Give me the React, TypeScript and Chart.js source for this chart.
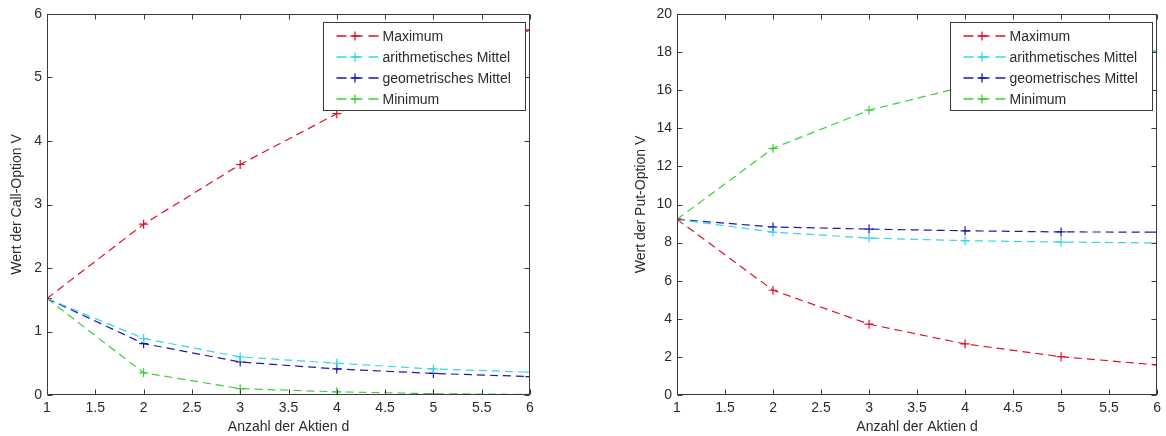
import React, { useEffect, useRef } from "react";
import { Chart, registerables } from "chart.js";

Chart.register(...registerables);

// ---- data ----
const aktienAnzahl = [1, 2, 3, 4, 5, 6];
const seriesNames = ["Maximum", "arithmetisches Mittel", "geometrisches Mittel", "Minimum"];

const callMaximum = [1.52, 2.69, 3.63, 4.43, 5.12, 5.75];
const callArith = [1.52, 0.89, 0.6, 0.5, 0.41, 0.36];
const callGeom = [1.52, 0.81, 0.52, 0.41, 0.34, 0.29];
const callMinimum = [1.52, 0.35, 0.1, 0.05, 0.02, 0.01];

const putMaximum = [9.22, 5.5, 3.72, 2.68, 2.01, 1.58];
const putArith = [9.22, 8.55, 8.24, 8.1, 8.03, 7.98];
const putGeom = [9.22, 8.82, 8.71, 8.62, 8.56, 8.55];
const putMinimum = [9.22, 12.95, 14.95, 16.2, 17.2, 18.05];

const xTickValues = [1, 1.5, 2, 2.5, 3, 3.5, 4, 4.5, 5, 5.5, 6];
const callYTicks = [0, 1, 2, 3, 4, 5, 6];
const putYTicks = [0, 2, 4, 6, 8, 10, 12, 14, 16, 18, 20];

const xTitle = "Anzahl der Aktien d";
const callYTitle = "Wert der Call-Option V";
const putYTitle = "Wert der Put-Option V";

// ---- styles ----
const seriesColors = ["#e0102a", "#30d8e8", "#1a1aa8", "#38d238"];
const FONT_FAMILY = "'Liberation Sans', Arial, Helvetica, sans-serif";
const TEXT_COLOR = "#2b2b2b";
const FRAME_COLOR = "#3a3a3a";

const framePlugin = {
  id: "matlabFrame",
  afterDatasetsDraw(chart: any) {
    const { ctx, chartArea, scales } = chart;
    const { left, right, top, bottom } = chartArea;
    const L = Math.round(left) + 0.5;
    const R = Math.round(right) - 0.5;
    const T = Math.round(top) + 0.5;
    const B = Math.round(bottom) - 0.5;
    ctx.save();
    ctx.strokeStyle = FRAME_COLOR;
    ctx.lineWidth = 1;
    ctx.setLineDash([]);
    ctx.strokeRect(L, T, R - L, B - T);
    const tl = 5;
    ctx.beginPath();
    scales.x.ticks.forEach((t: any) => {
      const px = Math.round(scales.x.getPixelForValue(t.value)) + 0.5;
      ctx.moveTo(px, B);
      ctx.lineTo(px, B - tl);
      ctx.moveTo(px, T);
      ctx.lineTo(px, T + tl);
    });
    scales.y.ticks.forEach((t: any) => {
      const py = Math.round(scales.y.getPixelForValue(t.value)) + 0.5;
      ctx.moveTo(L, py);
      ctx.lineTo(L + tl, py);
      ctx.moveTo(R, py);
      ctx.lineTo(R - tl, py);
    });
    ctx.stroke();
    ctx.restore();
  },
};

const legendPlugin = {
  id: "boxLegend",
  afterDraw(chart: any) {
    const { ctx, chartArea } = chart;
    const w = 202;
    const h = 88;
    const bx = Math.round(chartArea.right - 5 - w) + 0.5;
    const by = Math.round(chartArea.top + 8) + 0.5;
    ctx.save();
    ctx.fillStyle = "#ffffff";
    ctx.fillRect(bx, by, w, h);
    ctx.strokeStyle = FRAME_COLOR;
    ctx.lineWidth = 1;
    ctx.strokeRect(bx, by, w, h);
    chart.data.datasets.forEach((ds: any, i: number) => {
      const cy = Math.round(by + 13 + i * 21);
      ctx.strokeStyle = ds.borderColor;
      ctx.lineWidth = 1.3;
      ctx.setLineDash([10, 6]);
      ctx.beginPath();
      ctx.moveTo(bx + 13, cy);
      ctx.lineTo(bx + 55, cy);
      ctx.stroke();
      ctx.setLineDash([]);
      const cx = Math.round(bx + 31);
      ctx.beginPath();
      ctx.moveTo(cx - 4.5, cy);
      ctx.lineTo(cx + 4.5, cy);
      ctx.moveTo(cx, cy - 4.5);
      ctx.lineTo(cx, cy + 4.5);
      ctx.stroke();
      ctx.fillStyle = TEXT_COLOR;
      ctx.font = `14px ${FONT_FAMILY}`;
      ctx.textBaseline = "middle";
      ctx.textAlign = "left";
      ctx.fillText(ds.label, bx + 59, cy + 1);
    });
    ctx.restore();
  },
};

type PanelProps = {
  series: number[][];
  yTicks: number[];
  yTitle: string;
  left: number;
  width: number;
  padRight: number;
  yTitlePad: number;
};

function Panel({ series, yTicks, yTitle, left, width, padRight, yTitlePad }: PanelProps) {
  const ref = useRef<HTMLCanvasElement | null>(null);
  useEffect(() => {
    if (!ref.current) return;
    const font = { family: FONT_FAMILY, size: 14 };
    const chart = new Chart(ref.current, {
      type: "line",
      data: {
        datasets: series.map((vals, i) => ({
          label: seriesNames[i],
          data: aktienAnzahl.map((x, j) => ({ x, y: vals[j] })),
          borderColor: seriesColors[i],
          backgroundColor: seriesColors[i],
          borderWidth: 1.2,
          borderDash: [8, 5],
          pointStyle: "cross",
          pointRadius: 4.5,
          pointHoverRadius: 4.5,
          pointBorderWidth: 1.2,
          pointBorderColor: seriesColors[i],
          tension: 0,
          fill: false,
        })),
      },
      options: {
        animation: false,
        responsive: false,
        events: [],
        layout: { padding: { top: 14, right: padRight, bottom: 0, left: 0 } },
        plugins: { legend: { display: false }, tooltip: { enabled: false } },
        scales: {
          x: {
            type: "linear",
            min: aktienAnzahl[0],
            max: aktienAnzahl[aktienAnzahl.length - 1],
            afterBuildTicks: (s: any) => {
              s.ticks = xTickValues.map((v) => ({ value: v }));
            },
            afterFit: (s: any) => {
              s.height = 41;
            },
            ticks: {
              autoSkip: false,
              maxRotation: 0,
              padding: 5,
              font,
              color: TEXT_COLOR,
              callback: (v: any) => String(v),
            },
            grid: { display: false, drawTicks: false },
            border: { display: false },
            title: {
              display: true,
              text: xTitle,
              font: { family: FONT_FAMILY, size: 14, lineHeight: 1.1 },
              color: TEXT_COLOR,
              padding: { top: 0, bottom: 1 },
            },
          },
          y: {
            type: "linear",
            min: yTicks[0],
            max: yTicks[yTicks.length - 1],
            afterBuildTicks: (s: any) => {
              s.ticks = yTicks.map((v) => ({ value: v }));
            },
            afterFit: (s: any) => {
              s.width = 47;
            },
            ticks: {
              padding: 5,
              font,
              color: TEXT_COLOR,
              callback: (v: any) => String(v),
            },
            grid: { display: false, drawTicks: false },
            border: { display: false },
            title: {
              display: true,
              text: yTitle,
              font,
              color: TEXT_COLOR,
              padding: { top: yTitlePad, bottom: 0 },
            },
          },
        },
      },
      plugins: [framePlugin, legendPlugin],
    } as any);
    return () => chart.destroy();
  }, []);
  return (
    <canvas
      ref={ref}
      width={width}
      height={436}
      style={{ position: "absolute", left, top: 0, width, height: 436 }}
    />
  );
}

export default function App() {
  return (
    <div style={{ position: "absolute", left: 0, top: 0, width: 1166, height: 436, background: "#ffffff" }}>
      <Panel
        series={[callMaximum, callArith, callGeom, callMinimum]}
        yTicks={callYTicks}
        yTitle={callYTitle}
        left={0}
        width={580}
        padRight={50}
        yTitlePad={9}
      />
      <Panel
        series={[putMaximum, putArith, putGeom, putMinimum]}
        yTicks={putYTicks}
        yTitle={putYTitle}
        left={630}
        width={536}
        padRight={4}
        yTitlePad={3}
      />
    </div>
  );
}
